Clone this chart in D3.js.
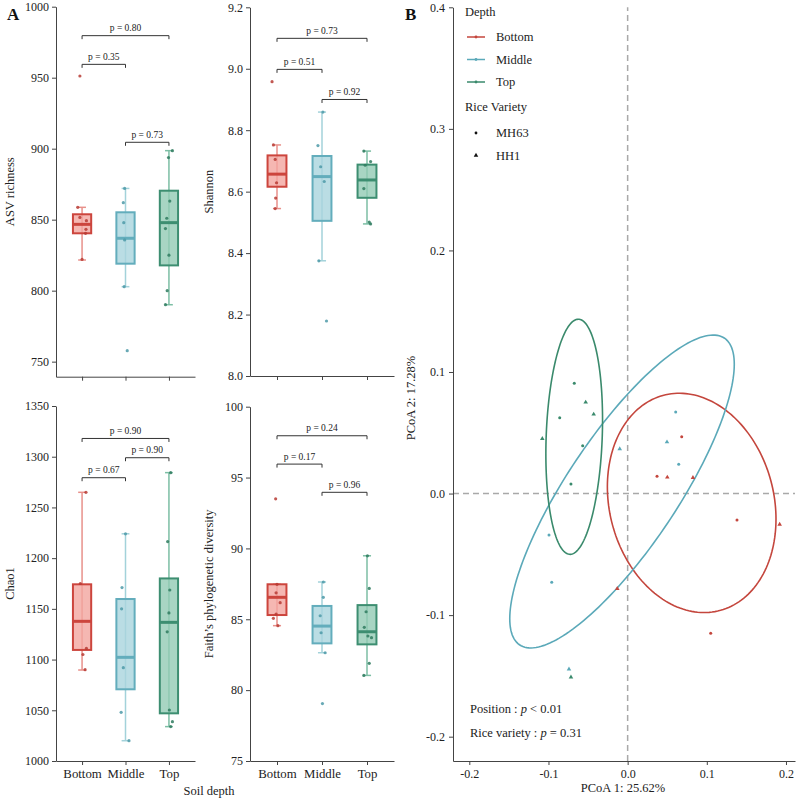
<!DOCTYPE html>
<html>
<head>
<meta charset="utf-8">
<script src="https://cdn.jsdelivr.net/npm/d3@7"></script>
<style>
  body { margin: 0; background: #fff; }
  svg { font-family: "Liberation Serif", "Times New Roman", serif; }
</style>
</head>
<body>
<svg id="chart" width="800" height="800"></svg>
<script>
// ---- data ----
var groups = ["Bottom", "Middle", "Top"];
var metricNames = ["ASV richness", "Shannon", "Chao1", "Faith\u2019s phylogenetic diversity"];

// box stats per group: [lower whisker, q1, median, q3, upper whisker]
var asvBox = [[821.6, 840.4, 846.7, 853.8, 858.7], [802.8, 819, 836.9, 855.2, 872], [790.1, 817.8, 847.9, 870.4, 898.6]];
var asvPts = [[951.2, 858.7, 851.6, 849.3, 843.2, 840.4, 822], [872, 862, 847.9, 835.7, 802.8, 757.7], [898.6, 893.7, 863.1, 851, 843.7, 825, 800, 790.1]];
var asvJit = [[-0.05, -0.1, -0.05, 0.1, 0.09, 0.08, 0], [-0.02, -0.05, -0.04, -0.02, -0.03, 0.04], [0.08, -0.01, 0.02, -0.05, -0.08, 0, -0.04, -0.08]];
var asvTicks = [750, 800, 850, 900, 950, 1000];
var asvP = ["0.35", "0.73", "0.80"];
var asvSigY = [959.4, 904.5, 979.6];

var shanBox = [[8.545, 8.616, 8.657, 8.718, 8.752], [8.375, 8.505, 8.649, 8.716, 8.859], [8.495, 8.58, 8.638, 8.688, 8.732]];
var shanPts = [[8.958, 8.752, 8.705, 8.629, 8.579, 8.545], [8.859, 8.75, 8.681, 8.633, 8.375, 8.179], [8.732, 8.698, 8.686, 8.61, 8.501, 8.495]];
var shanJit = [[-0.11, -0.08, -0.04, -0.01, -0.03, -0.04], [0.02, -0.09, -0.03, 0.05, -0.07, 0.1], [-0.07, 0.08, -0.04, -0.07, 0.05, 0.08]];
var shanTicks = [8.0, 8.2, 8.4, 8.6, 8.8, 9.0, 9.2];
var shanP = ["0.51", "0.92", "0.73"];
var shanSigY = [8.998, 8.90, 9.099];

var chaoBox = [[1089.7, 1109.5, 1137.7, 1174.2, 1264.9], [1020, 1070.7, 1102.2, 1159.7, 1224], [1033.9, 1047, 1136.7, 1180, 1284.3]];
var chaoPts = [[1264.9, 1175, 1111, 1105, 1090], [1224, 1171, 1150, 1092, 1048, 1020], [1284.3, 1216.3, 1168.6, 1146, 1127.4, 1050.3, 1038.8, 1033.9]];
var chaoJit = [[0.09, -0.04, 0.1, 0.02, 0.07], [0, -0.08, -0.09, -0.05, -0.1, 0.08], [0.04, -0.03, 0.02, 0, -0.04, 0.01, 0.08, 0.04]];
var chaoTicks = [1000, 1050, 1100, 1150, 1200, 1250, 1300, 1350];
var chaoP = ["0.67", "0.90", "0.90"];
var chaoSigY = [1279.3, 1299, 1318];

var faithBox = [[84.55, 85.3, 86.55, 87.47, 87.47], [82.64, 83.3, 84.52, 85.94, 87.63], [81.04, 83.23, 84.12, 86.0, 89.48]];
var faithPts = [[93.5, 87.47, 86.87, 86.17, 85.37, 85.07, 84.55], [87.63, 86.55, 85.25, 84.05, 82.64, 79.05], [89.48, 87.18, 85.53, 84.43, 83.82, 83.7, 81.89, 81.04]];
var faithJit = [[-0.03, 0, -0.02, 0.07, -0.02, -0.08, 0.02], [0.03, 0.03, -0.04, -0.02, 0.07, 0.01], [0.01, 0.05, -0.02, -0.06, 0.02, 0.1, 0.05, -0.07]];
var faithTicks = [75, 80, 85, 90, 95, 100];
var faithP = ["0.17", "0.96", "0.24"];
var faithSigY = [95.95, 93.96, 97.95];

var sigPairs = [[0, 1], [1, 2], [0, 2]];

// PCoA
var pcoaX = [0.0683, 0.0371, 0.0501, 0.0825, 0.1381, 0.1920, -0.0131, 0.1049,
             -0.0100, 0.0607, 0.0497, 0.0645, -0.0993, -0.0959, -0.0741,
             -0.0674, -0.0530, -0.0429, -0.0858, -0.1078, -0.0568, -0.0716, -0.0716];
var pcoaY = [0.0468, 0.0142, 0.0134, 0.0131, -0.0217, -0.0253, -0.0782, -0.1149,
             0.0367, 0.0671, 0.0424, 0.0241, -0.0341, -0.0730, -0.1445,
             0.0907, 0.0751, 0.0652, 0.0624, 0.0452, 0.0394, 0.0079, -0.1511];
var pcoaDepth = [0, 0, 0, 0, 0, 0, 0, 0, 1, 1, 1, 1, 1, 1, 1, 2, 2, 2, 2, 2, 2, 2, 2];
var pcoaVariety = ["MH63", "MH63", "HH1", "HH1", "MH63", "HH1", "HH1", "MH63",
                   "HH1", "MH63", "HH1", "MH63", "MH63", "MH63", "HH1",
                   "MH63", "HH1", "HH1", "MH63", "HH1", "MH63", "MH63", "HH1"];
var varieties = ["MH63", "HH1"];
// ellipse per depth: centre, spread in x and y, correlation
var ellCX = [0.0809, -0.0071, -0.0675];
var ellCY = [-0.0077, 0.0017, 0.0467];
var ellSX = [0.1065, 0.1418, 0.0358];
var ellSY = [0.0902, 0.1287, 0.0967];
var ellRho = [-0.147, 0.813, 0.145];
var pcoaXTicks = [-0.2, -0.1, 0.0, 0.1, 0.2];
var pcoaYTicks = [-0.2, -0.1, 0.0, 0.1, 0.2, 0.3, 0.4];

// ---- styles ----
var strokeCol = ["#cc453d", "#63adbc", "#3d8e71"];
var fillCol = ["#f2a59f", "#a9d5dd", "#92cab4"];
var whiskCol = ["#e8918b", "#a3d2da", "#7cbea4"];
var dotCol = ["#b73b34", "#4d9aa8", "#2f7b5f"];
var ellCol = ["#c4463d", "#5ba9b9", "#3a8a6c"];
var axisCol = "#444";
var textCol = "#222";

var svg = d3.select("#chart");

var panels = [
  {name: metricNames[0], box: asvBox, pts: asvPts, jit: asvJit, ticks: asvTicks, p: asvP, sig: asvSigY,
   dom: [739.4, 1000], x0: 56, x1: 195, y0: 376.7, y1: 6.7, tx: 14, labels: false, fmt: d3.format("d")},
  {name: metricNames[1], box: shanBox, pts: shanPts, jit: shanJit, ticks: shanTicks, p: shanP, sig: shanSigY,
   dom: [8.0, 9.2], x0: 250, x1: 394, y0: 376, y1: 7.3, tx: 213, labels: false, fmt: d3.format(".1f")},
  {name: metricNames[2], box: chaoBox, pts: chaoPts, jit: chaoJit, ticks: chaoTicks, p: chaoP, sig: chaoSigY,
   dom: [1000, 1350], x0: 56, x1: 195, y0: 761, y1: 406, tx: 14, labels: true, fmt: d3.format("d")},
  {name: metricNames[3], box: faithBox, pts: faithPts, jit: faithJit, ticks: faithTicks, p: faithP, sig: faithSigY,
   dom: [75, 100], x0: 250, x1: 394, y0: 761, y1: 406.7, tx: 213, labels: true, fmt: d3.format("d")}
];

function styleAxis(g, size) {
  g.select(".domain").attr("stroke", axisCol).attr("stroke-width", 1);
  g.selectAll(".tick line").attr("stroke", axisCol);
  g.selectAll(".tick text").attr("fill", textCol).style("font-size", size + "px")
    .style("font-family", "'Liberation Serif', serif");
}

panels.forEach(function(pn) {
  var y = d3.scaleLinear().domain(pn.dom).range([pn.y0, pn.y1]);
  var x = d3.scalePoint().domain(groups).range([pn.x0, pn.x1]).padding(0.6);
  var step = x.step();
  var g = svg.append("g");

  var ya = g.append("g").attr("transform", "translate(" + pn.x0 + ",0)")
    .call(d3.axisLeft(y).tickValues(pn.ticks).tickFormat(pn.fmt).tickSize(4).tickSizeOuter(0).tickPadding(3));
  styleAxis(ya, 12);
  var xa = g.append("g").attr("transform", "translate(0," + pn.y0 + ")")
    .call(d3.axisBottom(x).tickSize(4).tickSizeOuter(0).tickPadding(4).tickFormat(pn.labels ? null : ""));
  styleAxis(xa, 12.8);

  g.append("text").attr("transform", "translate(" + pn.tx + "," + (pn.y0 + pn.y1) / 2 + ") rotate(-90)")
    .attr("text-anchor", "middle").attr("fill", textCol).style("font-size", "12.5px").text(pn.name);

  groups.forEach(function(grp, i) {
    var b = pn.box[i];
    var cx = x(grp);
    var bw = step * 0.42, cw = step * 0.18;
    g.append("line").attr("x1", cx).attr("x2", cx).attr("y1", y(b[0])).attr("y2", y(b[4]))
      .attr("stroke", whiskCol[i]).attr("stroke-width", 1.5);
    [b[0], b[4]].forEach(function(v) {
      g.append("line").attr("x1", cx - cw / 2).attr("x2", cx + cw / 2).attr("y1", y(v)).attr("y2", y(v))
        .attr("stroke", whiskCol[i]).attr("stroke-width", 1.5);
    });
    g.append("rect").attr("x", cx - bw / 2).attr("width", bw)
      .attr("y", y(b[3])).attr("height", y(b[1]) - y(b[3]))
      .attr("fill", fillCol[i]).attr("fill-opacity", 0.8)
      .attr("stroke", strokeCol[i]).attr("stroke-width", 2);
    g.append("line").attr("x1", cx - bw / 2).attr("x2", cx + bw / 2).attr("y1", y(b[2])).attr("y2", y(b[2]))
      .attr("stroke", strokeCol[i]).attr("stroke-width", 3);
    g.selectAll(null).data(pn.pts[i]).enter().append("circle")
      .attr("cx", function(d, k) { return cx + pn.jit[i][k] * step; })
      .attr("cy", function(d) { return y(d); })
      .attr("r", 1.6).attr("fill", dotCol[i]).attr("fill-opacity", 0.85);
  });

  sigPairs.forEach(function(pr, k) {
    var yb = y(pn.sig[k]);
    var xa1 = x(groups[pr[0]]), xb1 = x(groups[pr[1]]);
    g.append("path").attr("d", "M" + xa1 + "," + (yb + 3.5) + "V" + yb + "H" + xb1 + "V" + (yb + 3.5))
      .attr("fill", "none").attr("stroke", "#333").attr("stroke-width", 1);
    g.append("text").attr("x", (xa1 + xb1) / 2).attr("y", yb - 4.5).attr("text-anchor", "middle")
      .attr("fill", textCol).style("font-size", "9.5px").text("p = " + pn.p[k]);
  });
});

svg.append("text").attr("x", 209).attr("y", 795).attr("text-anchor", "middle")
  .attr("fill", textCol).style("font-size", "12.5px").text("Soil depth");

svg.append("text").attr("x", 7).attr("y", 20).attr("fill", "#111")
  .style("font-size", "17px").style("font-weight", "bold").text("A");
svg.append("text").attr("x", 405).attr("y", 20).attr("fill", "#111")
  .style("font-size", "17px").style("font-weight", "bold").text("B");

// ---- panel B: PCoA ----
var px = d3.scaleLinear().domain([-0.2206, 0.2114]).range([453, 795]);
var py = d3.scaleLinear().domain([-0.22, 0.4]).range([761, 7.3]);
var gb = svg.append("g");

gb.append("line").attr("x1", px(0)).attr("x2", px(0)).attr("y1", py.range()[0]).attr("y2", py.range()[1])
  .attr("stroke", "#a9a9a9").attr("stroke-width", 1.5).attr("stroke-dasharray", "6,4");
gb.append("line").attr("x1", px.range()[0]).attr("x2", px.range()[1]).attr("y1", py(0)).attr("y2", py(0))
  .attr("stroke", "#a9a9a9").attr("stroke-width", 1.5).attr("stroke-dasharray", "6,4");

var bxa = gb.append("g").attr("transform", "translate(0,761)")
  .call(d3.axisBottom(px).tickValues(pcoaXTicks).tickFormat(function(d) { return d.toFixed(1); })
    .tickSize(4).tickSizeOuter(0).tickPadding(4));
styleAxis(bxa, 12);
var bya = gb.append("g").attr("transform", "translate(453,0)")
  .call(d3.axisLeft(py).tickValues(pcoaYTicks).tickFormat(function(d) { return d.toFixed(1); })
    .tickSize(4).tickSizeOuter(0).tickPadding(4));
styleAxis(bya, 12);

gb.append("text").attr("x", 623).attr("y", 792).attr("text-anchor", "middle")
  .attr("fill", textCol).style("font-size", "12.5px").text("PCoA 1: 25.62%");
gb.append("text").attr("transform", "translate(415,398) rotate(-90)").attr("text-anchor", "middle")
  .attr("fill", textCol).style("font-size", "12.5px").text("PCoA 2: 17.28%");

var ellLine = d3.line().x(function(d) { return px(d[0]); }).y(function(d) { return py(d[1]); });
groups.forEach(function(grp, i) {
  var pts = d3.range(0, 2 * Math.PI + 0.001, Math.PI / 90).map(function(t) {
    var r = ellRho[i];
    return [ellCX[i] + ellSX[i] * Math.cos(t),
            ellCY[i] + ellSY[i] * (r * Math.cos(t) + Math.sqrt(1 - r * r) * Math.sin(t))];
  });
  gb.append("path").attr("d", ellLine(pts)).attr("fill", "none")
    .attr("stroke", ellCol[i]).attr("stroke-width", 1.6);
});

var tri = d3.symbol().type(d3.symbolTriangle).size(9);
pcoaX.forEach(function(v, k) {
  var c = ellCol[pcoaDepth[k]];
  if (pcoaVariety[k] === varieties[0]) {
    gb.append("circle").attr("cx", px(v)).attr("cy", py(pcoaY[k])).attr("r", 1.5).attr("fill", c);
  } else {
    gb.append("path").attr("d", tri).attr("transform", "translate(" + px(v) + "," + py(pcoaY[k]) + ")").attr("fill", c);
  }
});

// legend
var lg = gb.append("g");
lg.append("text").attr("x", 465).attr("y", 16).attr("fill", textCol).style("font-size", "12.5px").text("Depth");
groups.forEach(function(grp, i) {
  var yy = 37 + i * 22.5;
  lg.append("line").attr("x1", 467).attr("x2", 485).attr("y1", yy).attr("y2", yy)
    .attr("stroke", ellCol[i]).attr("stroke-width", 1.5);
  lg.append("circle").attr("cx", 476).attr("cy", yy).attr("r", 1.4).attr("fill", ellCol[i]);
  lg.append("text").attr("x", 496).attr("y", yy + 4).attr("fill", textCol).style("font-size", "12.5px").text(grp);
});
lg.append("text").attr("x", 465).attr("y", 111).attr("fill", textCol).style("font-size", "12.5px").text("Rice Variety");
varieties.forEach(function(v, i) {
  var yy = 133 + i * 22.5;
  if (i === 0) lg.append("circle").attr("cx", 476).attr("cy", yy).attr("r", 1.4).attr("fill", "#111");
  else lg.append("path").attr("d", tri).attr("transform", "translate(476," + yy + ")").attr("fill", "#111");
  lg.append("text").attr("x", 496).attr("y", yy + 4).attr("fill", textCol).style("font-size", "12.5px").text(v);
});

// test annotations
var ann = [["Position : ", "p", " < 0.01"], ["Rice variety : ", "p", " = 0.31"]];
ann.forEach(function(a, i) {
  var t = gb.append("text").attr("x", 470).attr("y", 713 + i * 24).attr("fill", textCol).style("font-size", "12.5px");
  t.append("tspan").text(a[0]);
  t.append("tspan").style("font-style", "italic").text(a[1]);
  t.append("tspan").text(a[2]);
});
</script>
</body>
</html>
